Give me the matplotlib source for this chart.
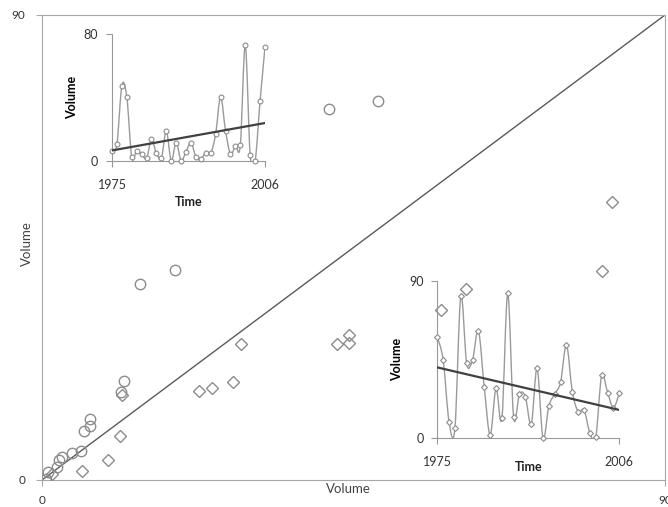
import numpy as np
import matplotlib
matplotlib.use("Agg")
import matplotlib.pyplot as plt
from matplotlib.path import Path
from matplotlib.patches import PathPatch

plt.rcParams['font.family'] = ['Lato', 'DejaVu Sans']

# main scatter: circles and diamonds (Volume vs Volume)
circle_x = [0.6, 0.9, 2.1, 2.4, 2.85, 4.4, 5.6, 6.1, 6.9, 6.9, 11.4, 11.9, 14.1, 19.2, 41.5, 48.6]
circle_y = [0.1, 1.5, 2.6, 3.9, 4.4, 5.2, 5.6, 9.5, 10.4, 11.9, 17.0, 19.2, 38.0, 40.6, 71.9, 73.4]
diamond_x = [1.4, 5.75, 9.6, 11.3, 11.5, 22.7, 24.5, 27.6, 28.7, 42.6, 44.4, 44.4, 57.6, 61.3, 80.9, 82.3]
diamond_y = [1.2, 1.7, 3.9, 8.6, 16.5, 17.2, 17.9, 19.0, 26.4, 26.4, 28.1, 26.5, 33.0, 36.9, 40.4, 53.8]

years = list(range(1975, 2007))
upper_vol = [6.3, 10.6, 47.5, 40.5, 2.1, 6.3, 4.2, 1.5, 13.5, 4.7, 1.5, 18.8, 0.0, 11.4, 0.0, 5.7,
             11.4, 2.5, 0.9, 5.1, 4.7, 16.9, 40.5, 19.0, 4.2, 9.3, 9.9, 73.2, 3.6, 0.0, 37.8, 71.8]
lower_vol = [57.7, 44.7, 9.5, 5.7, 81.3, 42.8, 44.7, 61.5, 29.1, 1.9, 28.5, 11.4, 82.8, 12.0, 25.3, 23.8,
             8.0, 40.0, 0.0, 18.4, 25.3, 32.0, 53.3, 26.6, 15.2, 16.2, 2.9, 0.9, 36.2, 26.1, 17.5, 25.7]

W, H = 668, 507
fig = plt.figure(figsize=(W / 100, H / 100), dpi=100)

frame = '#a6a6a6'
mk = '#8c8c8c'


def smooth(ax, x, y, color):
    # Excel-style smoothed line: cubic Bezier segments through the points
    p = np.column_stack([x, y]).astype(float)
    verts = [p[0]]
    codes = [Path.MOVETO]
    n = len(p)
    for i in range(n - 1):
        p0 = p[i - 1] if i > 0 else p[i]
        p3 = p[i + 2] if i + 2 < n else p[i + 1]
        c1 = p[i] + (p[i + 1] - p0) / 6
        c2 = p[i + 1] - (p3 - p[i]) / 6
        verts += [c1, c2, p[i + 1]]
        codes += [Path.CURVE4] * 3
    ax.add_patch(PathPatch(Path(verts, codes), fill=False, edgecolor=color, lw=1.0, zorder=2))


# main axes
ax = fig.add_axes([42 / W, 1 - 480 / H, 623 / W, 465 / H])
ax.set_xlim(0, 90)
ax.set_ylim(0, 90)
ax.plot([0, 90], [0, 90], color='#5a5a5a', lw=1.0, zorder=1)
ax.plot(circle_x, circle_y, 'o', ms=7.5, mfc='none', mec=mk, mew=1.0, zorder=3)
ax.plot(diamond_x, diamond_y, 'D', ms=6, mfc='none', mec=mk, mew=1.0, zorder=3)
ax.set_xticks([0, 90])
ax.set_yticks([0, 90])
ax.tick_params(direction='out', length=4, color=frame, labelsize=8.5, labelcolor='#333333')
ax.tick_params(axis='y', pad=8)
ax.tick_params(axis='x', pad=7)
for s in ax.spines.values():
    s.set_color(frame)
fig.text(348 / W, 1 - 489 / H, 'Volume', ha='center', va='center', fontsize=9.5, color='#444444')
fig.text(27 / W, 1 - 244 / H, 'Volume', ha='center', va='center', rotation=90, fontsize=9.5, color='#444444')


def inset(rect, vals, ymax, marker, ms, time_y):
    a = fig.add_axes(rect)
    a.patch.set_alpha(0)
    a.set_xlim(1975, 2006)
    a.set_ylim(0, ymax)
    smooth(a, years, vals, '#9a9a9a')
    a.plot(years, vals, marker, ms=ms, mfc='white', mec=mk, mew=0.8, ls='none', zorder=3, clip_on=False)
    k, b = np.polyfit(years, vals, 1)
    a.plot([1975, 2006], [k * 1975 + b, k * 2006 + b], color='#404040', lw=1.6, zorder=4)
    a.set_xticks([1975, 2006])
    a.set_yticks([0, ymax])
    a.tick_params(direction='out', length=4, color='#999999', labelsize=9, labelcolor='#333333')
    a.tick_params(axis='x', pad=9)
    a.tick_params(axis='y', pad=6)
    for side in ['top', 'right']:
        a.spines[side].set_visible(False)
    for side in ['left', 'bottom']:
        a.spines[side].set_color('#999999')
    a.set_ylabel('Volume', fontsize=9, fontweight='bold', labelpad=4)
    a.text(0.5, time_y, 'Time', transform=a.transAxes, ha='center', va='center',
           fontsize=9, fontweight='bold', color='#222222')
    return a


inset([112 / W, 1 - 160.7 / H, 153 / W, 126.4 / H], upper_vol, 80, 'o', 3.5, -0.33)
inset([437.3 / W, 1 - 438.3 / H, 182 / W, 157.6 / H], lower_vol, 90, 'D', 3, -0.18)

fig.savefig('out.png', dpi=100)
